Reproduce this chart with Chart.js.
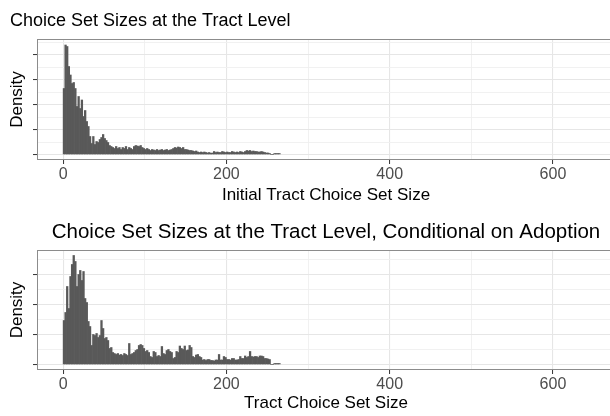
<!DOCTYPE html>
<html>
<head>
<meta charset="utf-8">
<script src="https://cdn.jsdelivr.net/npm/chart.js@4.4.1/dist/chart.umd.min.js"></script>
<style>
  html, body { margin: 0; padding: 0; background: #fff; overflow: hidden; }
  body { width: 610px; height: 416px; position: relative; }
  canvas { position: absolute; left: 0; }
  #grafica-inicial { top: 0; }
  #grafica-adopcion { top: 208px; }
</style>
</head>
<body>
<canvas id="grafica-inicial" width="625" height="208"></canvas>
<canvas id="grafica-adopcion" width="625" height="208"></canvas>
<script>
// Histogramas de densidad (densidad x 1000), bins de ancho 2 empezando en 0
const anchoBin = 2;

const densidadInicial = [
    26.4, 43.8, 43.2, 35.2, 31.8, 28.4, 28.8, 26.4, 19.2, 23.2, 18.4, 21.8, 15.2, 17.6, 13.2,
    11.2, 7.2, 4.4, 7.2, 4.0, 5.2, 4.8, 6.0, 6.8, 8.0, 6.4, 5.6, 4.8, 3.6, 3.2,
    2.8, 2.4, 3.2, 2.4, 2.8, 2.0, 2.8, 2.4, 3.2, 2.0, 2.8, 2.4, 2.0, 3.2, 3.6,
    3.4, 3.2, 3.6, 2.8, 2.4,
    2.0, 2.4, 2.0, 1.6, 2.0, 1.8, 1.6, 2.0, 1.6, 1.8, 2.0, 1.6, 1.8, 2.0, 1.6, 1.8, 2.0, 2.4,
    2.8, 2.6, 3.0, 2.8, 2.4, 2.8, 2.0,
    2.0, 1.8, 1.6, 1.6, 1.4, 1.2, 1.4, 1.0, 0.8, 1.0,
    0.8, 1.0, 0.8, 0.6, 0.8, 0.5, 0.6, 1.2,
    0.8, 1.0, 0.8, 0.8, 1.2, 1.0, 0.8, 1.0, 0.8, 0.8, 1.2, 1.0, 0.8, 1.0, 0.8, 1.2, 1.0, 0.8, 1.2,
    1.6, 1.4, 1.6, 1.2, 1.4, 1.2, 1.2, 1.0,
    1.0, 1.2, 1.0, 0.8, 0.6, 0.6, 0.4,
    0, 0,
    0.4, 0.4, 0.4, 0.4
];

const densidadAdopcion = [
    7.33, 8.67, 13.0, 9.33, 14.67, 16.67, 18.17, 17.17, 13.0, 15.0, 15.67, 14.0, 15.5, 11.0, 10.33,
    7.17, 6.33, 3.17, 5.0, 4.83, 5.17, 4.5, 4.83, 7.33, 6.0, 4.33, 4.5, 4.0, 2.67, 2.83,
    2.0, 1.83, 1.67, 1.83, 1.58, 1.67, 1.5, 1.83, 1.67, 1.5,
    3.5, 1.67,
    1.83, 2.0, 2.33,
    2.5, 3.17, 3.33, 3.17, 2.67,
    2.17, 2.33, 2.0, 1.33, 1.17, 2.17, 2.0, 1.33, 1.5, 1.33,
    3.0,
    1.83, 1.67, 2.33, 2.5, 2.17, 2.0, 1.0, 1.17,
    2.17, 2.0, 3.08, 2.67, 2.5, 3.08, 2.33, 2.42, 3.17, 2.83,
    1.33, 1.17, 1.58, 1.67, 1.33, 1.17,
    0.75, 0.83, 0.67, 0.83, 0.83, 0.67, 0.67, 0.58, 0.75,
    0.75, 1.67, 0.75, 0.75, 1.33, 1.17,
    0.83, 0.83, 0.75, 1.0, 1.0, 0.75, 0.75, 0.83, 1.33, 1.0, 1.0, 1.42, 1.17,
    1.33, 2.17,
    1.33, 1.25, 1.33, 1.33, 1.17, 1.42, 1.42,
    1.33, 1.0, 1.0, 0.92, 0.83,
    0, 0,
    0.17, 0.17, 0.17, 0.17
];

// Marcas mayores (con etiqueta / tick) y lineas de rejilla menores
const marcasX = [0, 200, 400, 600];
const rejillaX = [0, 100, 200, 300, 400, 500, 600];
const marcasYInicial = [0, 10, 20, 30, 40];
const rejillaYInicial = [0, 5, 10, 15, 20, 25, 30, 35, 40, 45];
const marcasYAdopcion = [0, 5, 10, 15];
const rejillaYAdopcion = [0, 2.5, 5, 7.5, 10, 12.5, 15, 17.5];

const fuente = "'Liberation Sans', Arial, Helvetica, sans-serif";

// Borde gris del panel (estilo theme_bw)
const bordePanel = {
    id: 'bordePanel',
    afterDraw(chart) {
        const { ctx, chartArea: a } = chart;
        ctx.save();
        ctx.strokeStyle = '#8c8c8c';
        ctx.lineWidth = 1;
        ctx.strokeRect(a.left + 0.5, a.top + 0.5, a.right - a.left - 1, a.bottom - a.top - 1);
        ctx.restore();
    }
};

function rejilla(marcas) {
    const esMayor = (ctx) => ctx.tick && marcas.includes(ctx.tick.value);
    return {
        color: (ctx) => esMayor(ctx) ? '#e6e6e6' : '#efefef',
        lineWidth: (ctx) => esMayor(ctx) ? 1.1 : 0.9,
        tickLength: 4,
        tickWidth: 1,
        tickColor: (ctx) => esMayor(ctx) ? '#333333' : 'rgba(0,0,0,0)',
        offset: false
    };
}

function crearHistograma(id, valores, cfg) {
    const puntos = valores.map((v, i) => ({ x: i * anchoBin + anchoBin / 2, y: v }));
    return new Chart(document.getElementById(id), {
        type: 'bar',
        data: {
            datasets: [{
                data: puntos,
                backgroundColor: '#595959',
                borderWidth: 0,
                barPercentage: 1,
                categoryPercentage: 1
            }]
        },
        options: {
            responsive: false,
            animation: false,
            layout: { padding: { left: cfg.padIzq, right: 10, top: 0, bottom: 0 } },
            plugins: {
                legend: { display: false },
                tooltip: { enabled: false },
                title: {
                    display: true,
                    text: cfg.titulo,
                    align: cfg.alinear,
                    fullSize: cfg.anchoCompleto,
                    color: '#000',
                    font: { family: fuente, size: cfg.tamTitulo, weight: 'normal' },
                    padding: cfg.tituloPad
                }
            },
            scales: {
                x: {
                    type: 'linear',
                    min: -32,
                    max: 676,
                    offset: false,
                    afterBuildTicks: (s) => { s.ticks = rejillaX.map((v) => ({ value: v })); },
                    afterFit: (s) => { s.height = cfg.altoX; },
                    border: { display: false },
                    grid: rejilla(marcasX),
                    ticks: {
                        autoSkip: false,
                        maxRotation: 0,
                        padding: 1,
                        color: '#4d4d4d',
                        font: { family: fuente, size: 16 },
                        callback: (v) => marcasX.includes(v) ? String(v) : ''
                    },
                    title: {
                        display: true,
                        text: cfg.tituloX,
                        color: '#000',
                        font: { family: fuente, size: 17 },
                        padding: { top: 0, bottom: 2 }
                    }
                },
                y: {
                    min: cfg.yMin,
                    max: cfg.yMax,
                    afterBuildTicks: (s) => { s.ticks = cfg.rejillaY.map((v) => ({ value: v })); },
                    afterFit: (s) => { s.width = 37 - cfg.padIzq; },
                    border: { display: false },
                    grid: rejilla(cfg.marcasY),
                    ticks: { display: false },
                    title: {
                        display: true,
                        text: 'Density',
                        color: '#000',
                        font: { family: fuente, size: 17 },
                        padding: { top: 7 - cfg.padIzq, bottom: 0 }
                    }
                }
            }
        },
        plugins: [bordePanel]
    });
}

crearHistograma('grafica-inicial', densidadInicial, {
    titulo: 'Choice Set Sizes at the Tract Level',
    alinear: 'start',
    anchoCompleto: true,
    padIzq: 10,
    tamTitulo: 18,
    tituloPad: { top: 10, bottom: 7.4 },
    tituloX: 'Initial Tract Choice Set Size',
    altoX: 48,
    yMin: -2.2,
    yMax: 46.2,
    marcasY: marcasYInicial,
    rejillaY: rejillaYInicial
});

crearHistograma('grafica-adopcion', densidadAdopcion, {
    titulo: 'Choice Set Sizes at the Tract Level, Conditional on Adoption',
    alinear: 'center',
    anchoCompleto: false,
    padIzq: 0,
    tamTitulo: 20.5,
    tituloPad: { top: 12, bottom: 5.4 },
    tituloX: 'Tract Choice Set Size',
    altoX: 46,
    yMin: -0.917,
    yMax: 19.083,
    marcasY: marcasYAdopcion,
    rejillaY: rejillaYAdopcion
});
</script>
</body>
</html>
